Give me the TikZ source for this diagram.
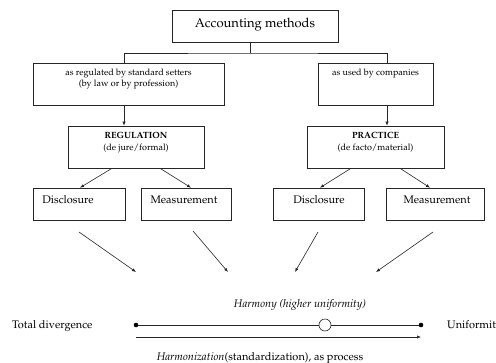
\documentclass[tikz,border=0pt]{standalone}
\usepackage[T1]{fontenc}
\usepackage{mathpazo}
\usetikzlibrary{arrows.meta,calc}
\begin{document}
\begin{tikzpicture}[x=1pt,y=-1pt,
  box/.style={draw=black!85,line width=0.6pt,rectangle,inner sep=0pt},
  txt/.style={inner sep=0pt,anchor=base},
  conn/.style={draw=black!85,line width=0.6pt},
  arr/.style={conn,-{Latex[length=4pt,width=3.2pt]}}]
\useasboundingbox (0,0) rectangle (496,362);
% boxes
\node[box,minimum width=166pt,minimum height=32pt] (top) at (255,26) {};
\node[txt,font=\fontsize{13}{15}\selectfont] (toptxt) at (255,27) {Accounting methods};
\node[box,minimum width=191pt,minimum height=42pt] (setters) at (128.5,84) {};
\node[txt,font=\fontsize{9}{11}\selectfont] (setters1) at (128.5,75.5) {as regulated by standard setters};
\node[txt,font=\fontsize{9}{11}\selectfont] (setters2) at (128.5,86) {(by law or by profession)};
\node[box,minimum width=115pt,minimum height=42pt] (companies) at (375.5,84) {};
\node[txt,font=\fontsize{9}{11}\selectfont] (companies1) at (375.5,75.5) {as used by companies};
\node[box,minimum width=136pt,minimum height=42pt] (reg) at (136,147) {};
\node[txt,font=\fontsize{9}{11}\selectfont\bfseries] (reg1) at (136,138) {REGULATION};
\node[txt,font=\fontsize{9}{11}\selectfont] (reg2) at (136,150) {(de jure/formal)};
\node[box,minimum width=137pt,minimum height=42pt] (prac) at (375.5,147) {};
\node[txt,font=\fontsize{9}{11}\selectfont\bfseries] (prac1) at (375.5,138) {PRACTICE};
\node[txt,font=\fontsize{9}{11}\selectfont] (prac2) at (375.5,150) {(de facto/material)};
\node[box,minimum width=92pt,minimum height=32pt] (disL) at (79,204) {};
\node[txt,font=\fontsize{11}{13}\selectfont] (disLt) at (68,203.5) {Disclosure};
\node[box,minimum width=90pt,minimum height=32pt] (meaL) at (186,204) {};
\node[txt,font=\fontsize{11}{13}\selectfont] (meaLt) at (184,203.5) {Measurement};
\node[box,minimum width=91pt,minimum height=32pt] (disR) at (318.5,204) {};
\node[txt,font=\fontsize{11}{13}\selectfont] (disRt) at (319,203.5) {Disclosure};
\node[box,minimum width=98pt,minimum height=32pt] (meaR) at (435,204) {};
\node[txt,font=\fontsize{11}{13}\selectfont] (meaRt) at (437,203.5) {Measurement};
% tree connectors
\coordinate (j) at (250,53);
\draw[conn] ($(top.south)+(-5,0)$) -- (j);
\draw[conn] (124,63) |- (j) -| (387,63);
\draw[arr] ($(setters.south)+(-4.5,0)$) -- ($(reg.north)+(-12,0)$);
\draw[arr] ($(companies.south)+(11.5,0)$) -- ($(prac.north)+(11.5,0)$);
\draw[arr] ($(reg.south)+(-24,0)$) -- ($(disL.north)+(1,0)$);
\draw[arr] ($(reg.south)+(24,0)$) -- ($(meaL.north)+(5,0)$);
\draw[arr] ($(prac.south)+(-24.5,0)$) -- ($(disR.north)+(1.5,0)$);
\draw[arr] ($(prac.south)+(24.5,0)$) -- ($(meaR.north)+(-5,0)$);
% lower arrows
\coordinate (a1s) at (79,232); \coordinate (a1e) at (136,272);
\coordinate (a2s) at (193,231); \coordinate (a2e) at (228,272);
\coordinate (a3s) at (318,232); \coordinate (a3e) at (295,272);
\coordinate (a4s) at (433,232); \coordinate (a4e) at (376,272);
\draw[arr] (a1s) -- (a1e);
\draw[arr] (a2s) -- (a2e);
\draw[arr] (a3s) -- (a3e);
\draw[arr] (a4s) -- (a4e);
% scale
\node[txt,font=\fontsize{11}{13}\selectfont\itshape] (harmony) at (300,307) {Harmony (higher uniformity)};
\node[txt,font=\fontsize{11}{13}\selectfont,anchor=base west] (div) at (12,328.5) {Total divergence};
\node[txt,font=\fontsize{11}{13}\selectfont,anchor=base west] (uni) at (447,328.5) {Uniformity};
\coordinate (l) at (136,325); \coordinate (r) at (421,325);
\node[circle,draw=black!85,fill=white,line width=0.6pt,minimum size=12pt,inner sep=0pt] (harm) at (325,325) {};
\draw[conn] (l) -- (harm.west);
\draw[conn] (harm.east) -- (r);
\fill (l) circle (2.3pt);
\fill (r) circle (2.3pt);
\coordinate (pl) at (136,337); \coordinate (pr) at (421,337);
\draw[arr] (pl) -- (pr);
\node[txt,font=\fontsize{11}{13}\selectfont] (proc) at (260,360) {\textit{Harmonization}(standardization), as process};
\end{tikzpicture}
\end{document}
